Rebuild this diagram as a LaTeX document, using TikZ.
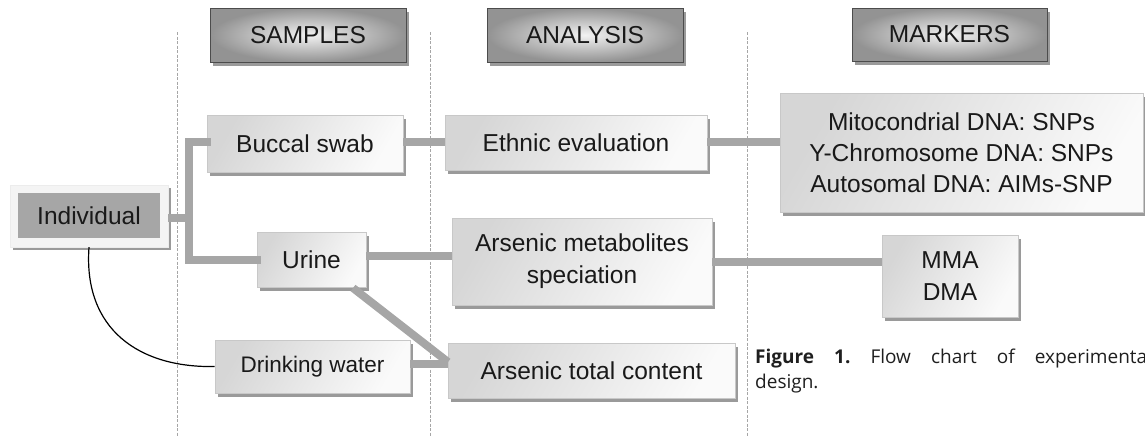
\documentclass[tikz,border=0pt]{standalone}
\usepackage{fontspec}
\setmainfont{Liberation Sans}
\newfontfamily\capfont{Open Sans}
\usetikzlibrary{shadows}
\definecolor{linegray}{HTML}{A6A6A6}
\definecolor{boxborder}{HTML}{C8C8C8}
\definecolor{shadowgray}{HTML}{9A9A9A}
\tikzset{
  lightbox/.style={rectangle, draw=boxborder, line width=0.8pt,
    shading=axis, left color=gray!32, right color=gray!4, shading angle=60,
    drop shadow={shadow xshift=3pt, shadow yshift=-4pt, fill=shadowgray, opacity=1},
    inner sep=0pt, align=center, font=\fontsize{24.5}{29}\selectfont, text=black!90},
  headbox/.style={rectangle, draw=black!70, line width=1pt,
    inner color=gray!10, outer color=gray!85,
    drop shadow={shadow xshift=3pt, shadow yshift=-4pt, fill=shadowgray, opacity=1},
    inner sep=0pt, minimum width=196pt, minimum height=54pt,
    font=\fontsize{24.5}{29}\selectfont, text=black!90},
  conn/.style={draw=linegray, line width=8pt},
  sepline/.style={draw=gray!70, line width=0.6pt, dash pattern=on 3pt off 1.5pt},
  captext/.style={anchor=base west, inner sep=0pt, font=\capfont\fontsize{19}{24}\selectfont, text=black!88},
}
\begin{document}
\begin{tikzpicture}[x=1pt, y=-1pt]
\useasboundingbox (0,0) rectangle (1145,437);
% separator lines
\coordinate (s1t) at (177,32); \coordinate (s1b) at (177,437);
\coordinate (s2t) at (430,32); \coordinate (s2b) at (430,437);
\coordinate (s3t) at (747,32); \coordinate (s3b) at (747,437);
\draw[sepline] (s1t) -- (s1b);
\draw[sepline] (s2t) -- (s2b);
\draw[sepline] (s3t) -- (s3b);
% headers
\node[headbox] (hs) at (308,35) {SAMPLES};
\node[headbox] (ha) at (585,35) {ANALYSIS};
\node[headbox, minimum width=195pt, minimum height=53pt] (hm) at (949.5,34.5) {MARKERS};
% junctions
\coordinate (jt) at (189,142);
\coordinate (jb) at (189,260);
\coordinate (jm) at (189,218);
% boxes
\node[lightbox, minimum width=196pt, minimum height=57pt] (bs) at (305,143.5) {Buccal swab};
\node[lightbox, minimum width=109pt, minimum height=55pt] (ur) at (311.5,259.5) {Urine};
\node[lightbox, minimum width=195pt, minimum height=53pt, font=\fontsize{22.5}{27}\selectfont] (dw) at (312.5,366.5) {Drinking water};
\node[lightbox, minimum width=262pt, minimum height=55pt] (ee) at (576,142.5) {Ethnic evaluation};
\node[lightbox, minimum width=260pt, minimum height=87pt, font=\fontsize{24.5}{32}\selectfont] (am) at (582,261.5) {Arsenic metabolites\\speciation};
\node[lightbox, minimum width=287pt, minimum height=55pt] (at) at (591.5,370.5) {Arsenic total content};
\node[lightbox, minimum width=363pt, minimum height=119pt, font=\fontsize{24.5}{31}\selectfont] (mk) at (961.5,152.5) {Mitocondrial DNA: SNPs\\Y-Chromosome DNA: SNPs\\Autosomal DNA: AIMs-SNP};
\node[lightbox, minimum width=136pt, minimum height=82pt, font=\fontsize{24.5}{32}\selectfont] (md) at (950,276) {MMA\\DMA};
% individual
\node[rectangle, fill=gray!9, draw=gray!15, minimum width=158pt, minimum height=62pt,
  drop shadow={shadow xshift=3pt, shadow yshift=-3pt, fill=shadowgray, opacity=1}] (indo) at (89,216) {};
\node[rectangle, fill=linegray, minimum width=142pt, minimum height=45pt, inner sep=0pt,
  font=\fontsize{24.5}{29}\selectfont, text=black!90] (ind) at (89,215.5) {Individual};
% connectors
\draw[conn] (indo.east |- jm) -- (jm);
\draw[conn, line cap=rect] (bs.west |- jt) -- (jt) -- (jb) -- (ur.west |- jb);
\draw[conn] (bs.east |- 0,142) -- (ee.west |- 0,142);
\draw[conn] (ee.east |- 0,142) -- (mk.west |- 0,142);
\draw[conn] (ur.east |- 0,256) -- (am.west |- 0,256);
\draw[conn] (am.east |- 0,262) -- (md.west |- 0,262);
\draw[conn] (dw.east |- 0,364) -- (at.west |- 0,364);
\coordinate (dgs) at (353,288);
\coordinate (dge) at (448,362);
\draw[conn] (dgs) -- (dge);
% curve
\draw[black, line width=1.2pt] (indo.south) .. controls (83,330) and (140,368) .. (dw.west);
% caption
\node[captext] (cap1) at (755,363) {\frenchspacing\makebox[392pt][s]{\textbf{Figure 1.} Flow chart of experimenta}};
\node[captext] (cap2) at (755,388) {design.};
\end{tikzpicture}
\end{document}
